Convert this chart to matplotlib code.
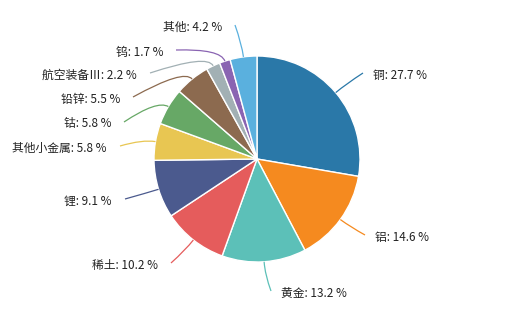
import numpy as np
import matplotlib
matplotlib.use("Agg")
import matplotlib.pyplot as plt
from matplotlib.path import Path
from matplotlib.patches import PathPatch

plt.rcParams['font.family'] = ['Noto Sans CJK SC', 'DejaVu Sans']

categories = ['铜', '铝', '黄金', '稀土', '锂', '其他小金属', '钴', '铅锌', '航空装备Ⅲ', '钨', '其他']
values = [27.7, 14.6, 13.2, 10.2, 9.1, 5.8, 5.8, 5.5, 2.2, 1.7, 4.2]
colors = ['#2a78a8', '#f58a1f', '#5cc0b8', '#e55c5c', '#4b5a8e', '#e8c652',
          '#67a866', '#8c6a4f', '#a2b0b4', '#8a64b2', '#5ab0de']

# label line end points (pixel coords, y from top) - layout
anchors = [(363, 73), (365, 235), (271, 291), (171, 263), (125, 199), (120, 146),
           (124, 122), (133, 97), (150, 73), (176, 50), (235, 25)]

W, H = 520, 311
fig = plt.figure(figsize=(W / 100, H / 100), dpi=100)
ax = fig.add_axes([0, 0, 1, 1])
ax.set_xlim(0, W)
ax.set_ylim(H, 0)
ax.axis('off')

cx, cy, r = 257, 159, 103

# draw pie in flipped coords: use pie with counterclock False and y-axis inverted
wedges, _ = ax.pie(values, colors=colors, startangle=-90, counterclock=True,
                   center=(cx, cy), radius=r, frame=True,
                   wedgeprops=dict(edgecolor='white', linewidth=1.0))
ax.set_xlim(0, W)
ax.set_ylim(H, 0)
ax.set_aspect('equal')
ax.axis('off')

total = sum(values)
cum = 0
for i, (cat, v) in enumerate(zip(categories, values)):
    mid = 90 - 360 * (cum + v / 2) / total
    cum += v
    a = np.deg2rad(mid)
    p0 = (cx + r * np.cos(a), cy - r * np.sin(a))
    p1 = (cx + (r + 13) * np.cos(a), cy - (r + 13) * np.sin(a))
    p2 = anchors[i]
    path = Path([p0, p1, p2], [Path.MOVETO, Path.CURVE3, Path.CURVE3])
    ax.add_patch(PathPatch(path, facecolor='none', edgecolor=colors[i], lw=0.9))
    label = f'{cat}: {v} %'
    if p2[0] >= cx + 5:
        ax.text(p2[0] + 10, p2[1] + 2, label, ha='left', va='center',
                fontsize=8.5, color='#222222')
    elif abs(p2[0] - cx) <= 20 and p2[1] > cy:
        ax.text(p2[0] + 11, p2[1] + 3, label, ha='left', va='center',
                fontsize=8.5, color='#222222')
    else:
        ax.text(p2[0] - 13, p2[1] + 2, label, ha='right', va='center',
                fontsize=8.5, color='#222222')

fig.savefig('out.png', dpi=100, facecolor='white')
